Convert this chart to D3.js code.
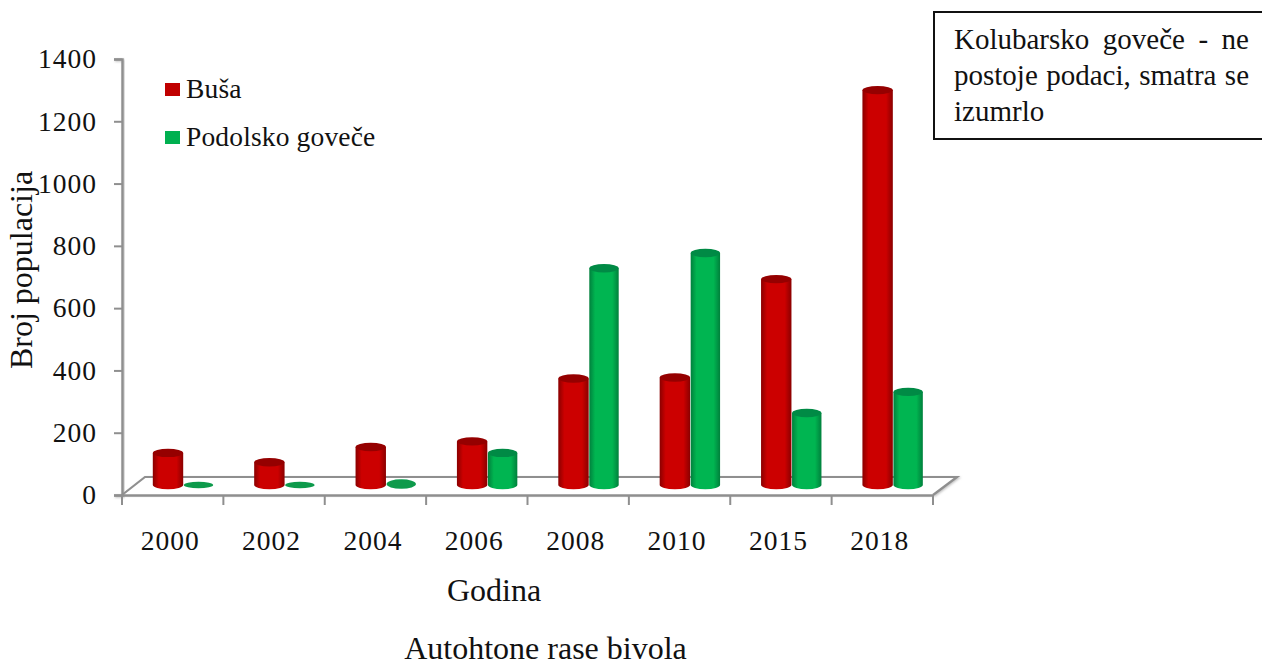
<!DOCTYPE html>
<html><head><meta charset="utf-8">
<script src="https://cdn.jsdelivr.net/npm/d3@7"></script>
<style>
html,body{margin:0;padding:0;background:#fff;overflow:hidden}
#chart{position:absolute;left:0;top:0}
text{font-family:"Liberation Serif","Times New Roman",serif;fill:#111}
#note{position:absolute;left:933px;top:11px;width:329px;height:129px;box-sizing:border-box;border:2px solid #111;border-right:none;padding:8px 13px 0 19px;
font:29px/36px "Liberation Serif",serif;color:#111;text-align:justify;background:#fff}
</style></head><body>
<svg id="chart" width="1262" height="666"></svg>
<div id="note">Kolubarsko goveče - ne postoje podaci, smatra se izumrlo</div>
<script>
const years = ["2000","2002","2004","2006","2008","2010","2015","2018"];
const seriesNames = ["Buša","Podolsko goveče"];
const busa = [103,73,122,140,342,345,661,1268];
const podolsko = [0,0,3,103,696,745,231,299];
const yTicks = [0,200,400,600,800,1000,1200,1400];
const colors = {"Buša":["#8a0000","#cc0000","#950000"],"Podolsko goveče":["#00803c","#00b551","#008a45"]};

const svg = d3.select("#chart");
const x = d3.scaleBand().domain(years).range([122,933]);
const y = d3.scaleLinear().domain([0,1400]).range([495,59]);
const inner = d3.scaleBand().domain(seriesNames).range([0,60]);
const depth = {dx:23,dy:-18};
const barBase = -10;
const barShift = 46;
const rx = 15.2, ry = 4.2;

const defs = svg.append("defs");
seriesNames.forEach((s,i)=>{
  const g = defs.append("linearGradient").attr("id","g"+i);
  [[0,colors[s][0]],[0.2,colors[s][1]],[0.78,colors[s][1]],[1,colors[s][0]]]
   .forEach(([o,c])=>g.append("stop").attr("offset",o).attr("stop-color",c));
});
defs.append("filter").attr("id","soft").append("feGaussianBlur").attr("stdDeviation",0.7);
const shadow = defs.append("filter").attr("id","ashadow").attr("x","-20%").attr("y","-20%").attr("width","140%").attr("height","140%");
shadow.append("feDropShadow").attr("dx",1).attr("dy",1).attr("stdDeviation",1).attr("flood-color","#999").attr("flood-opacity",0.6);

// floor
const x0=x.range()[0], x1=x.range()[1], y0=y(0);
svg.append("path")
  .attr("d",d3.line()([[x0,y0],[x0+depth.dx,y0+depth.dy],[x1+depth.dx+1,y0+depth.dy],[x1,y0]]))
  .attr("fill","#fff").attr("stroke","#8f8f8f").attr("stroke-width",2.2).attr("filter","url(#ashadow)");

// axes
const gy = svg.append("g").attr("transform",`translate(${x0},0)`)
  .call(d3.axisLeft(y).tickValues(yTicks).tickSize(8).tickPadding(17).tickFormat(d3.format("d")));
const gx = svg.append("g").attr("transform",`translate(0,${y0})`)
  .call(d3.axisBottom(x).tickValues(years).tickSize(0).tickPadding(35));
gx.selectAll(".tick line").remove();
gx.selectAll("line.edge").data(d3.range(years.length+1)).enter().append("line")
  .attr("class","edge")
  .attr("x1",i=>x0+i*x.step()).attr("x2",i=>x0+i*x.step()).attr("y1",0).attr("y2",10)
  .attr("stroke","#8f8f8f").attr("stroke-width",2);
[gx,gy].forEach(g=>{
  g.selectAll("text").style("font-size","27.5px").style("letter-spacing","1px");
  g.selectAll(".domain").attr("stroke","#8f8f8f").attr("stroke-width",2.4);
  g.selectAll(".tick line").attr("stroke","#8f8f8f").attr("stroke-width",2);
});
gx.selectAll(".tick text").attr("dx",-2.5);
gy.select(".domain").attr("filter","url(#ashadow)");

// cylinders
const series = [busa,podolsko];
const barsLayer = svg.append("g").attr("filter","url(#soft)");
years.forEach((yr,c)=>{
  seriesNames.forEach((s,i)=>{
    const v = series[i][c];
    const cx = x(yr)+inner(s)+barShift + (i?0.5:0);
    const yb = y(0)+barBase, yt = y(v)+barBase;
    const r = i? rx-0.5 : rx;
    const e = v<10 ? 3.2+v/2 : ry;
    const g = barsLayer.append("g");
    if(v>=10){
      g.append("path")
       .attr("d",`M${cx-r},${yt}L${cx-r},${yb}A${r},${e} 0 0 0 ${cx+r},${yb}L${cx+r},${yt}Z`)
       .attr("fill",`url(#g${i})`);
    }
    g.append("ellipse").attr("cx",cx).attr("cy",yt).attr("rx",r).attr("ry",e)
     .attr("fill",v<10?"#0a9a4c":colors[s][2]);
  });
});

// legend
const legend = svg.append("g");
seriesNames.forEach((s,i)=>{
  const ly = 89+i*48;
  legend.append("rect").attr("x",165).attr("y",ly-6).attr("width",15).attr("height",13)
    .attr("fill",i?"#00b050":"#c00000");
  legend.append("text").attr("x",186).attr("y",ly+9).style("font-size","27.5px").style("letter-spacing","0.15px").text(s);
});

// titles
svg.append("text").attr("x",494).attr("y",601).attr("text-anchor","middle").style("font-size","32px").text("Godina");
svg.append("text").attr("x",545.5).attr("y",659).attr("text-anchor","middle").style("font-size","32px").text("Autohtone rase bivola");
svg.append("text").attr("transform","translate(32,270) rotate(-90)").attr("text-anchor","middle").style("font-size","32px").text("Broj populacija");
</script>
</body></html>
